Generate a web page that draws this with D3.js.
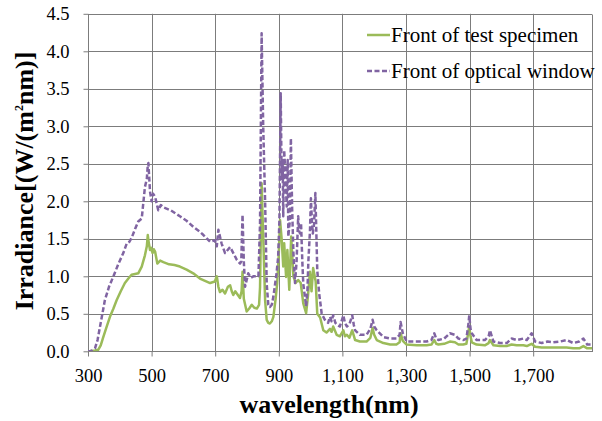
<!DOCTYPE html>
<html>
<head>
<meta charset="utf-8">
<script src="https://cdn.jsdelivr.net/npm/d3@7/dist/d3.min.js"></script>
<style>
  html, body { margin: 0; padding: 0; background: #fff; }
  svg { display: block; }
  text { font-family: "Liberation Serif", "Times New Roman", serif; fill: #000; }
</style>
</head>
<body>
<svg id="chart" width="602" height="421"></svg>
<script>
// ---- data ----
const xTicks = [300, 500, 700, 900, 1100, 1300, 1500, 1700];
const yTicks = [0, 0.5, 1.0, 1.5, 2.0, 2.5, 3.0, 3.5, 4.0, 4.5];
const seriesNames = ["Front of test specimen", "Front of optical window"];

const specimenWl = [300, 306, 322, 332, 340, 348, 358, 369, 380, 390, 403, 416, 427, 437, 448, 458, 469, 479, 485, 488, 491, 495, 499, 503, 507, 511, 518, 527, 537, 555, 572, 589, 610, 631, 652, 668, 684, 699, 705, 710, 715, 723, 731, 740, 747, 752, 757, 763, 768, 773, 778, 783, 786, 790, 799, 807, 815, 823, 831, 838, 841, 846, 849, 852, 857, 862, 867, 872, 878, 883, 890, 895, 900, 904, 909, 914, 917, 923, 927, 933, 939, 946, 953, 961, 969, 977, 986, 992, 998, 1003, 1008, 1016, 1021, 1030, 1040, 1050, 1061, 1066, 1071, 1082, 1092, 1103, 1108, 1114, 1122, 1131, 1140, 1155, 1176, 1188, 1195, 1200, 1208, 1229, 1250, 1270, 1280, 1283, 1290, 1302, 1334, 1365, 1380, 1389, 1395, 1402, 1420, 1438, 1454, 1465, 1480, 1490, 1496, 1499, 1503, 1507, 1522, 1548, 1560, 1564, 1575, 1596, 1617, 1632, 1648, 1669, 1680, 1695, 1706, 1727, 1745, 1763, 1785, 1805, 1826, 1845, 1858, 1870, 1885];
const specimen = [0.00, 0.00, 0.01, 0.02, 0.08, 0.19, 0.32, 0.46, 0.57, 0.68, 0.80, 0.91, 0.97, 1.02, 1.03, 1.04, 1.13, 1.28, 1.40, 1.55, 1.45, 1.35, 1.38, 1.31, 1.36, 1.33, 1.17, 1.21, 1.19, 1.16, 1.15, 1.13, 1.09, 1.04, 0.97, 0.94, 0.91, 0.93, 1.00, 0.86, 0.79, 0.82, 0.77, 0.86, 0.88, 0.80, 0.75, 0.80, 0.77, 0.74, 0.71, 0.80, 1.06, 0.70, 0.53, 0.57, 0.62, 0.58, 0.57, 0.62, 0.85, 2.24, 1.80, 1.39, 0.68, 0.42, 0.38, 0.37, 0.40, 0.46, 0.70, 0.91, 1.30, 1.75, 1.50, 1.13, 1.44, 0.99, 1.35, 0.82, 1.53, 1.00, 0.91, 0.95, 0.91, 0.64, 0.51, 0.75, 1.06, 0.80, 1.11, 0.93, 0.50, 0.45, 0.28, 0.25, 0.30, 0.26, 0.33, 0.22, 0.20, 0.28, 0.20, 0.22, 0.18, 0.28, 0.15, 0.13, 0.13, 0.18, 0.31, 0.22, 0.15, 0.11, 0.09, 0.09, 0.12, 0.24, 0.14, 0.09, 0.08, 0.08, 0.09, 0.15, 0.10, 0.09, 0.10, 0.13, 0.12, 0.09, 0.09, 0.10, 0.25, 0.33, 0.20, 0.12, 0.09, 0.08, 0.11, 0.15, 0.08, 0.07, 0.07, 0.09, 0.08, 0.08, 0.07, 0.10, 0.06, 0.05, 0.05, 0.05, 0.05, 0.05, 0.04, 0.04, 0.07, 0.04, 0.04];

const windowWl = [300, 306, 314, 322, 330, 340, 353, 366, 380, 395, 411, 422, 430, 437, 448, 458, 469, 479, 485, 488, 490, 495, 500, 505, 511, 521, 529, 537, 560, 589, 610, 631, 650, 663, 684, 699, 705, 710, 720, 731, 747, 757, 768, 778, 782, 786, 790, 794, 804, 812, 820, 836, 841, 846, 851, 857, 862, 867, 872, 878, 883, 893, 898, 902, 906, 909, 912, 914, 917, 920, 925, 928, 930, 935, 938, 942, 946, 951, 956, 961, 964, 967, 970, 974, 977, 986, 990, 993, 998, 1001, 1004, 1007, 1011, 1015, 1018, 1021, 1027, 1035, 1045, 1055, 1061, 1066, 1071, 1078, 1085, 1092, 1103, 1108, 1114, 1122, 1131, 1136, 1140, 1155, 1176, 1188, 1195, 1200, 1208, 1229, 1250, 1270, 1280, 1283, 1290, 1302, 1334, 1365, 1380, 1389, 1395, 1402, 1420, 1438, 1454, 1465, 1480, 1490, 1496, 1499, 1503, 1507, 1522, 1548, 1560, 1564, 1575, 1596, 1617, 1632, 1648, 1669, 1680, 1695, 1706, 1727, 1745, 1763, 1785, 1805, 1826, 1845, 1858, 1870, 1885];
const windowVals = [0.00, 0.00, 0.01, 0.04, 0.15, 0.38, 0.68, 0.86, 1.00, 1.16, 1.31, 1.44, 1.46, 1.51, 1.63, 1.73, 1.77, 2.19, 2.30, 2.48, 2.51, 2.13, 2.00, 2.10, 2.06, 1.88, 1.95, 1.92, 1.88, 1.80, 1.74, 1.66, 1.60, 1.55, 1.46, 1.48, 1.40, 1.62, 1.44, 1.31, 1.39, 1.31, 1.22, 1.17, 1.20, 1.82, 1.20, 0.86, 1.04, 0.98, 1.00, 1.00, 1.70, 4.24, 3.00, 2.00, 0.90, 0.62, 0.59, 0.62, 0.73, 1.04, 1.26, 1.75, 3.44, 2.30, 2.55, 1.80, 2.68, 2.42, 1.93, 2.55, 1.53, 1.75, 2.84, 1.90, 1.31, 0.91, 1.20, 1.80, 1.60, 1.57, 1.71, 1.20, 0.90, 0.60, 0.80, 1.20, 1.60, 2.04, 1.75, 1.57, 1.70, 2.11, 1.60, 1.08, 0.77, 0.50, 0.42, 0.38, 0.46, 0.40, 0.48, 0.38, 0.35, 0.33, 0.48, 0.38, 0.33, 0.36, 0.48, 0.35, 0.28, 0.22, 0.22, 0.30, 0.42, 0.33, 0.28, 0.19, 0.17, 0.17, 0.22, 0.39, 0.24, 0.13, 0.13, 0.13, 0.15, 0.24, 0.17, 0.15, 0.17, 0.24, 0.22, 0.17, 0.15, 0.17, 0.35, 0.48, 0.30, 0.24, 0.15, 0.15, 0.20, 0.28, 0.13, 0.11, 0.11, 0.17, 0.15, 0.17, 0.15, 0.24, 0.13, 0.11, 0.13, 0.12, 0.13, 0.15, 0.11, 0.13, 0.17, 0.09, 0.09];

// ---- layout ----
const svg = d3.select("#chart");
const pLeft = 88, pRight = 592, pTop = 13.8, pBottom = 351.3;
const x = d3.scaleLinear().domain([300, 1885]).range([pLeft, pRight]);
const y = d3.scaleLinear().domain([0, 4.5]).range([pBottom, pTop]);
const gridColor = "#7c7c7c";

// horizontal grid
svg.append("g").selectAll("line").data(yTicks.filter(d => d > 0)).join("line")
  .attr("x1", pLeft).attr("x2", pRight)
  .attr("y1", d => Math.round(y(d)) + 0.5).attr("y2", d => Math.round(y(d)) + 0.5)
  .attr("stroke", gridColor).attr("stroke-width", 1);
// vertical grid
svg.append("g").selectAll("line").data(xTicks.filter(d => d > 300)).join("line")
  .attr("y1", pTop).attr("y2", pBottom)
  .attr("x1", d => Math.round(x(d)) + 0.5).attr("x2", d => Math.round(x(d)) + 0.5)
  .attr("stroke", gridColor).attr("stroke-width", 1);
// right border
svg.append("line").attr("x1", pRight + 0.5).attr("x2", pRight + 0.5)
  .attr("y1", Math.round(pTop) + 0.5).attr("y2", pBottom)
  .attr("stroke", gridColor);

// axes
const xAxis = d3.axisBottom(x).tickValues(xTicks).tickFormat(d3.format(",")).tickSize(5).tickPadding(12);
const yAxis = d3.axisLeft(y).tickValues(yTicks).tickFormat(d3.format(".1f")).tickSize(5).tickPadding(14);

const gx = svg.append("g").attr("transform", `translate(0,${Math.round(pBottom) + 0.5})`).call(xAxis);
gx.select(".domain").attr("stroke", gridColor).attr("d", `M${pLeft},0H${pRight + 1}`);
gx.selectAll(".tick line").attr("stroke", gridColor);
gx.selectAll(".tick text").attr("font-family", "Liberation Serif, serif").attr("font-size", 18.5).attr("fill", "#000");

const gy = svg.append("g").attr("transform", `translate(${pLeft + 0.5},0)`).call(yAxis);
gy.select(".domain").attr("stroke", gridColor).attr("d", `M0,${Math.round(pTop) + 0.5}V${pBottom + 1}`);
gy.selectAll(".tick line").attr("stroke", gridColor);
gy.selectAll(".tick text").attr("font-family", "Liberation Serif, serif").attr("font-size", 18.5).attr("fill", "#000");

// clip
svg.append("clipPath").attr("id", "clip").append("rect")
  .attr("x", pLeft).attr("y", pTop - 5).attr("width", pRight - pLeft).attr("height", pBottom - pTop + 5);

const line = d3.line().x(d => x(d[0])).y(d => y(d[1]));
const specPts = specimenWl.map((w, i) => [w, specimen[i]]);
const winPts = windowWl.map((w, i) => [w, windowVals[i]]);

const green = "#9BBB59", purple = "#8064A2";

svg.append("path").datum(specPts).attr("clip-path", "url(#clip)")
  .attr("d", line).attr("fill", "none").attr("stroke", green)
  .attr("stroke-width", 2.5).attr("stroke-linejoin", "round");
svg.append("path").datum(winPts).attr("clip-path", "url(#clip)")
  .attr("d", line).attr("fill", "none").attr("stroke", purple)
  .attr("stroke-width", 2.5).attr("stroke-dasharray", "5,2.5").attr("stroke-linejoin", "round");

// legend
const legend = svg.append("g");
const legRows = [
  { name: seriesNames[0], color: green, dash: null, yy: 35 },
  { name: seriesNames[1], color: purple, dash: "5,2.5", yy: 71 }
];
legRows.forEach(r => {
  legend.append("line").attr("x1", 367).attr("x2", 390).attr("y1", r.yy).attr("y2", r.yy)
    .attr("stroke", r.color).attr("stroke-width", 2.5).attr("stroke-dasharray", r.dash);
  legend.append("text").attr("x", 391).attr("y", r.yy + 7).attr("font-size", 21).text(r.name);
});

// axis titles
svg.append("text").attr("x", 329).attr("y", 413).attr("text-anchor", "middle")
  .attr("font-size", 26).attr("font-weight", "bold").text("wavelength(nm)");

const yt = svg.append("text").attr("transform", "translate(33,181) rotate(-90)")
  .attr("text-anchor", "middle").attr("font-size", 26).attr("font-weight", "bold");
yt.append("tspan").text("Irradiance[(W/(m");
yt.append("tspan").attr("font-size", 12).attr("dy", -10).text("2");
yt.append("tspan").attr("dy", 10).text("nm)]");
</script>
</body>
</html>
